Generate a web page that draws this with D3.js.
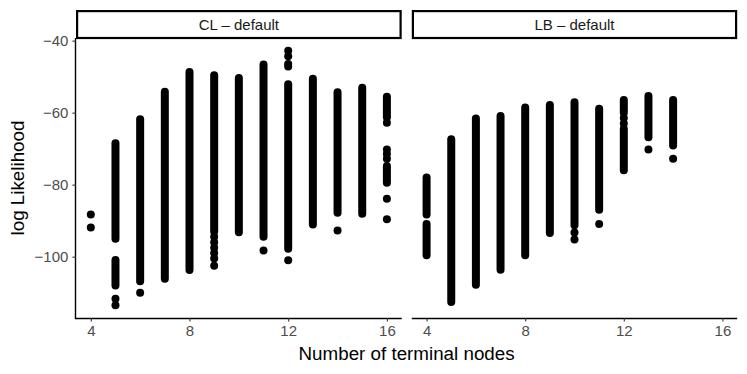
<!DOCTYPE html>
<html>
<head>
<meta charset="utf-8">
<script src="https://cdn.jsdelivr.net/npm/d3@7"></script>
<style>
  body { margin: 0; background: #fff; }
  text { font-family: "Liberation Sans", Arial, sans-serif; }
</style>
</head>
<body>
<div id="chart"></div>
<script>

// Faceted scatter: log likelihood by number of terminal nodes

const width = 747;
const height = 374;

// Panel geometry (two facets side by side)
const panelTop = 38;
const panelBottom = 318;
const stripTop = 10;
const panels = [
  {name: "CL \u2013 default", left: 76, right: 401.7},
  {name: "LB \u2013 default", left: 411.8, right: 737.2}
];
const pointR = 4;

// Data
const xTicks = [4, 8, 12, 16];
const yTicks = [-40, -60, -80, -100];

// dense runs of points: [nodes, top, bottom]
const clRuns = [
  [5, -68.5, -95.0], [5, -100.9, -108.0],
  [6, -61.8, -106.8],
  [7, -54.2, -106.1],
  [8, -48.7, -103.7],
  [9, -49.6, -93.0],
  [10, -50.4, -93.2],
  [11, -46.6, -94.5],
  [12, -52.1, -97.8],
  [13, -50.6, -91.1],
  [14, -54.3, -87.8],
  [15, -53.1, -88.1],
  [16, -55.6, -61.3], [16, -74.8, -79.5]
];
// isolated points: [nodes, logLik]
const clPoints = [
  [4, -88.3], [4, -91.9],
  [5, -111.7], [5, -113.5],
  [6, -110.0],
  [9, -94.5], [9, -96.0], [9, -97.5], [9, -99.0], [9, -100.5], [9, -102.5],
  [11, -98.3],
  [12, -42.8], [12, -44.3], [12, -46.5], [12, -47.2], [12, -101.0],
  [14, -92.7],
  [16, -62.8], [16, -70.2], [16, -71.5], [16, -72.8], [16, -83.9], [16, -89.6]
];

const lbRuns = [
  [4, -78.0, -88.3], [4, -90.9, -99.6],
  [5, -67.4, -112.6],
  [6, -61.6, -107.8],
  [7, -60.9, -103.6],
  [8, -58.6, -99.6],
  [9, -57.9, -93.4],
  [10, -57.1, -91.3],
  [11, -58.9, -87.0],
  [12, -56.5, -60.0], [12, -64.5, -76.0],
  [13, -55.4, -66.8],
  [14, -56.5, -69.1]
];
const lbPoints = [
  [10, -93.3], [10, -95.2],
  [11, -90.9],
  [12, -61.5], [12, -63.0],
  [13, -70.2],
  [14, -72.8]
];

panels[0].runs = clRuns;
panels[0].points = clPoints;
panels[1].runs = lbRuns;
panels[1].points = lbPoints;

const svg = d3.select("#chart")
.append("svg")
.attr("width", width)
.attr("height", height);

/*

  Scales (shared y, ggplot style 5% expansion)

*/

let allY = [];
[clRuns, lbRuns].forEach(r => r.forEach(d => { allY.push(d[1], d[2]); }));
[clPoints, lbPoints].forEach(p => p.forEach(d => allY.push(d[1])));
let yMin = d3.min(allY), yMax = d3.max(allY);
let yPad = (yMax - yMin) * 0.05;

let yScale = d3.scaleLinear()
.domain([yMin - yPad, yMax + yPad])
.range([panelBottom, panelTop]);

/*

  Panels

*/

panels.forEach(function (p, i) {
  let xScale = d3.scaleLinear()
  .domain([3.4, 16.6])
  .range([p.left, p.right]);

  // strip
  svg.append("rect")
  .attr("x", p.left + 1.1)
  .attr("y", stripTop + 1.1)
  .attr("width", p.right - p.left - 2.2)
  .attr("height", panelTop - stripTop - 1.1)
  .attr("fill", "#fff")
  .attr("stroke", "#000")
  .attr("stroke-width", 2.2);

  svg.append("text")
  .attr("x", (p.left + p.right) / 2)
  .attr("y", 29.5)
  .attr("text-anchor", "middle")
  .attr("fill", "#1A1A1A")
  .attr("font-size", "15px")
  .text(p.name);

  // x axis
  let xAxis = svg.append("g")
  .attr("transform", `translate(0,${panelBottom})`)
  .call(d3.axisBottom(xScale).tickValues(xTicks).tickSize(3.6).tickPadding(4));
  xAxis.select(".domain").attr("stroke", "#000").attr("stroke-width", 1.4)
  .attr("d", `M${p.left},0.5H${p.right}`);
  xAxis.selectAll(".tick line").attr("stroke", "#333").attr("stroke-width", 1.1);
  xAxis.selectAll(".tick text").attr("fill", "#4D4D4D").attr("font-size", "15px")
  .attr("font-family", "Liberation Sans, Arial, sans-serif");

  // y axis only on the first panel
  if (i === 0) {
    let yAxis = svg.append("g")
    .attr("transform", `translate(${p.left},0)`)
    .call(d3.axisLeft(yScale).tickValues(yTicks).tickSize(3.6).tickPadding(4)
    .tickFormat(d => d3.format("d")(d).replace("-", "\u2212")));
    yAxis.select(".domain").attr("stroke", "#000").attr("stroke-width", 1.4)
    .attr("d", `M-0.5,${panelTop}V${panelBottom + 1.2}`);
    yAxis.selectAll(".tick line").attr("stroke", "#333").attr("stroke-width", 1.1);
    yAxis.selectAll(".tick text").attr("fill", "#4D4D4D").attr("font-size", "15px")
    .attr("font-family", "Liberation Sans, Arial, sans-serif");
  }

  // dense runs drawn as stacked dots (round capped lines)
  svg.append("g")
  .selectAll("line")
  .data(p.runs)
  .enter()
  .append("line")
  .attr("x1", d => xScale(d[0]))
  .attr("x2", d => xScale(d[0]))
  .attr("y1", d => yScale(d[1]))
  .attr("y2", d => yScale(d[2]))
  .attr("stroke", "#000")
  .attr("stroke-width", pointR * 2)
  .attr("stroke-linecap", "round");

  svg.append("g")
  .selectAll("circle")
  .data(p.points)
  .enter()
  .append("circle")
  .attr("cx", d => xScale(d[0]))
  .attr("cy", d => yScale(d[1]))
  .attr("r", pointR)
  .attr("fill", "#000");
});

/*

  Axis titles

*/

svg.append("text")
.attr("x", (panels[0].left + panels[1].right) / 2)
.attr("y", 360)
.attr("text-anchor", "middle")
.attr("font-size", "18.8px")
.attr("fill", "#000")
.text("Number of terminal nodes");

svg.append("text")
.attr("transform", `translate(23.5,${(panelTop + panelBottom) / 2}) rotate(-90)`)
.attr("text-anchor", "middle")
.attr("font-size", "18.8px")
.attr("fill", "#000")
.text("log Likelihood");

</script>
</body>
</html>
